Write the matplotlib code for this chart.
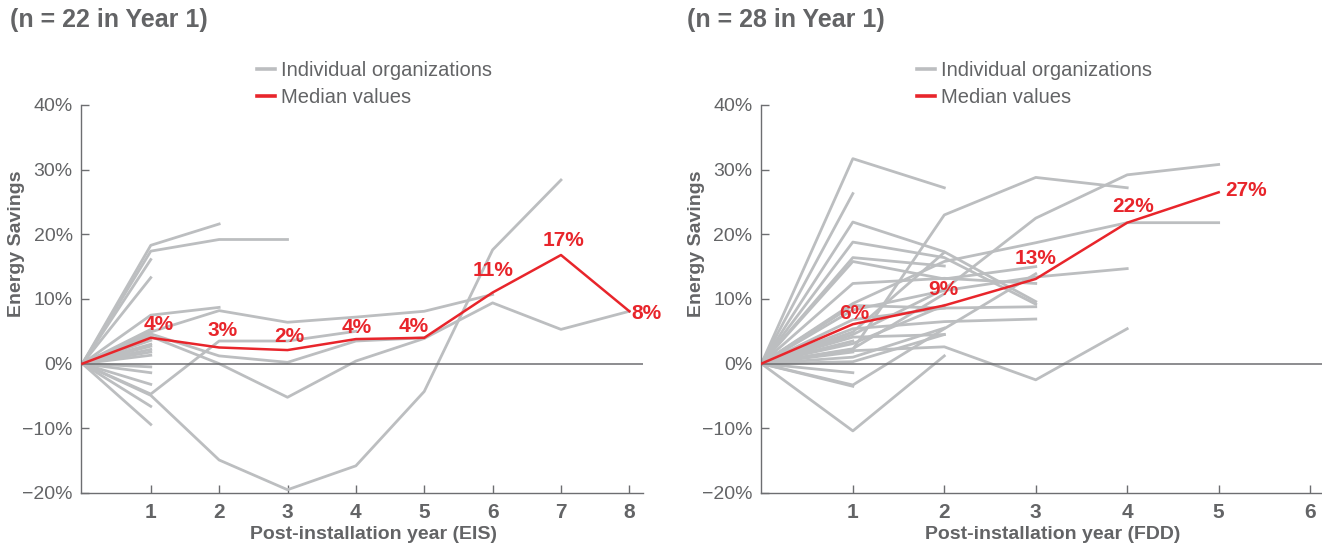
import matplotlib
matplotlib.use('Agg')
import matplotlib.pyplot as plt
import matplotlib.ticker as mtick
from matplotlib.lines import Line2D

plt.rcParams['font.family'] = ['Liberation Sans', 'DejaVu Sans']

# ---- data (percent energy savings by post-installation year, year 0 = baseline) ----
left_orgs = [
    [0, 18.3, 21.6],
    [0, 17.4, 19.2, 19.2],
    [0, 16.1],
    [0, 13.3],
    [0, 7.5, 8.7],
    [0, 4.9, 8.2, 6.4, 7.2, 8.1, 10.7],
    [0, 4.6, 1.2, 0.2, 3.5, 4.0],
    [0, 4.2, 0.0, -5.2, 0.4, 3.9, 9.4, 5.3, 8.1],
    [0, -4.7, 3.5, 3.5, 5.0],
    [0, -4.9, -14.9, -19.5, -15.8, -4.3, 17.6, 28.4],
    [0, 5.3], [0, 3.0], [0, 2.7], [0, 2.2], [0, 1.8], [0, 1.3],
    [0, -0.5], [0, -1.4], [0, -3.2], [0, -6.6], [0, -9.4], [0, 3.6],
]
left_median = [0, 4.0, 2.5, 2.1, 3.8, 4.0, 11.0, 16.8, 8.1]
left_labels = ['4%', '3%', '2%', '4%', '4%', '11%', '17%', '8%']

right_orgs = [
    [0, 31.7, 27.2],
    [0, 26.3],
    [0, 21.9, 17.3, 9.6],
    [0, 18.8, 16.4, 9.2],
    [0, 16.4, 15.1],
    [0, 15.8, 13.1, 15.0],
    [0, 12.4, 13.2, 12.4],
    [0, 2.2, 23.0, 28.8, 27.2],
    [0, 9.3, 15.8, 18.7, 21.8, 21.8],
    [0, 4.5, 11.5, 22.5, 29.2, 30.8],
    [0, 8.3, 11.3, 13.4, 14.7],
    [0, 2.0, 2.6, -2.5, 5.4],
    [0, -10.4, 1.2],
    [0, -3.3, 5.4, 13.9],
    [0, 9.0, 8.6, 8.8],
    [0, 5.4, 6.5, 6.9],
    [0, 4.9, 17.2],
    [0, 4.1, 4.5],
    [0, 3.1, 9.0],
    [0, 1.0, 5.5],
    [0, 0.3, 4.5],
    [0, -1.4],
    [0, -3.5],
    [0, 1.8],
    [0, 2.3, 10.8],
    [0, 6.8, 8.6],
    [0, 9.0],
    [0, 3.5],
]
right_median = [0, 6.1, 9.0, 13.1, 21.8, 26.5]
right_labels = ['6%', '9%', '13%', '22%', '27%']

titles = ['(n = 22 in Year 1)', '(n = 28 in Year 1)']
xlabels = ['Post-installation year (EIS)', 'Post-installation year (FDD)']
legend_labels = ['Individual organizations', 'Median values']

# label nudges (data units) so the % labels sit like in the original
left_off = [(0.12, 2.0), (0.05, 2.6), (0.03, 2.1), (0.01, 1.8), (-0.16, 1.7),
            (0.0, 3.4), (0.04, 2.2), (0.25, -0.3)]
right_off = [(0.02, 1.7), (-0.01, 2.5), (0.0, 3.2), (0.06, 2.5), (0.3, 0.3)]

GRAY = '#bcbec0'
RED = '#e8252b'
TXT = '#636466'
AX = '#6d6e71'

fig = plt.figure(figsize=(13.22, 5.48), dpi=100)
ax1 = fig.add_axes([0.0613, 0.1004, 0.4251, 0.708])
ax2 = fig.add_axes([0.5756, 0.1004, 0.4244, 0.708])

panels = [
    (ax1, left_orgs, left_median, left_labels, left_off, (-0.02, 8.2), range(1, 9), 0.313),
    (ax2, right_orgs, right_median, right_labels, right_off, (-0.005, 6.13), range(1, 7), 0.278),
]

for i, (ax, orgs, med, labs, offs, xl, xt, leg_x) in enumerate(panels):
    for vals in orgs:
        ax.plot(range(len(vals)), vals, color=GRAY, lw=2.0, zorder=2)
    ax.axhline(0, color=AX, lw=1.1, zorder=3)
    ax.plot(range(len(med)), med, color=RED, lw=1.8, zorder=4)
    for k, (lab, (dx, dy)) in enumerate(zip(labs, offs)):
        ax.text(k + 1 + dx, med[k + 1] + dy, lab, color=RED, fontsize=15,
                fontweight='bold', ha='center', va='center', zorder=5)

    ax.set_xlim(*xl)
    ax.set_ylim(-20, 40)
    ax.set_xticks(list(xt))
    ax.set_yticks(range(-20, 41, 10))
    ax.yaxis.set_major_formatter(mtick.PercentFormatter(decimals=0))
    ax.tick_params(axis='both', direction='in', length=6, width=1, color=AX,
                   labelcolor=TXT, labelsize=14)
    ax.tick_params(axis='x', pad=7, labelsize=15)
    ax.tick_params(axis='y', pad=6)
    for t in ax.get_xticklabels():
        t.set_fontweight('bold')
    for s in ['top', 'right']:
        ax.spines[s].set_visible(False)
    for s in ['left', 'bottom']:
        ax.spines[s].set_color(AX)
        ax.spines[s].set_linewidth(1.0)

    ax.set_xlabel(xlabels[i], fontsize=14, fontweight='bold', color=TXT)
    ax.xaxis.set_label_coords(0.52, -0.085)
    ax.set_ylabel('Energy Savings', fontsize=14, fontweight='bold', color=TXT)
    ax.yaxis.set_label_coords(-0.1, 0.642)

    handles = [Line2D([], [], color=GRAY, lw=2.6), Line2D([], [], color=RED, lw=2.6)]
    leg = ax.legend(handles, legend_labels, loc='center left',
                    bbox_to_anchor=(leg_x, 1.054), frameon=False, fontsize=14.5,
                    handlelength=0.9, handletextpad=0.3, labelspacing=0.4,
                    borderpad=0, borderaxespad=0)
    for t in leg.get_texts():
        t.set_color(TXT)

fig.text(0.0076, 0.9635, titles[0], fontsize=18, fontweight='bold', color=TXT,
         ha='left', va='center')
fig.text(0.520, 0.9635, titles[1], fontsize=18, fontweight='bold', color=TXT,
         ha='left', va='center')

fig.savefig('out.png', dpi=100)
